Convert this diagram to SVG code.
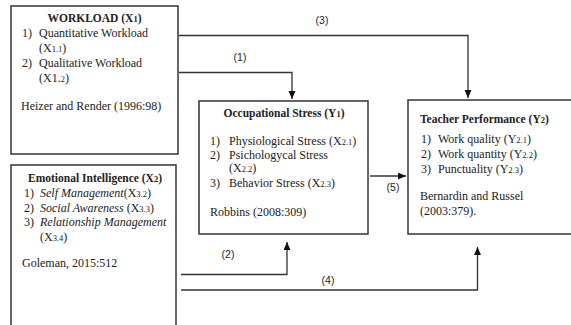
<svg xmlns="http://www.w3.org/2000/svg" width="571" height="325" viewBox="0 0 571 325">
<style>
.box{fill:#fff;stroke:#333;stroke-width:1.5}
.t{font-family:"Liberation Serif",serif;font-size:12px;fill:#222}
.b{font-weight:bold;font-size:11.5px}
.i{font-style:italic}
.s{font-size:8.5px}
.lbl{font-family:"Liberation Sans",sans-serif;font-size:10.5px;fill:#222}
.c{fill:none;stroke:#333;stroke-width:1.3}
</style>
<defs>
<marker id="ah" markerUnits="userSpaceOnUse" markerWidth="8" markerHeight="8" refX="8" refY="3.5" orient="auto">
<path d="M0,0 L8,3.5 L0,7 z" fill="#111"/>
</marker>
</defs>
<rect width="571" height="325" fill="#fff"/>
<g id="connectors">
<polyline class="c" points="179,35.5 468,35.5 468,98" marker-end="url(#ah)"/>
<polyline class="c" points="179,72.5 292,72.5 292,99" marker-end="url(#ah)"/>
<polyline class="c" points="370,176 406,176" marker-end="url(#ah)"/>
<polyline class="c" points="181,274.5 287,274.5 287,242" marker-end="url(#ah)"/>
<polyline class="c" points="181,290 477.5,290 477.5,247" marker-end="url(#ah)"/>
<text class="lbl" x="322" y="24" text-anchor="middle">(3)</text>
<text class="lbl" x="240" y="61" text-anchor="middle">(1)</text>
<text class="lbl" x="393" y="191" text-anchor="middle">(5)</text>
<text class="lbl" x="228" y="258" text-anchor="middle">(2)</text>
<text class="lbl" x="328" y="284" text-anchor="middle">(4)</text>
</g>
<g id="workload">
<rect class="box" x="11" y="6" width="167" height="148"/>
<text class="t b" x="94.5" y="22" text-anchor="middle">WORKLOAD (X<tspan class="s">1</tspan>)</text>
<text class="t" x="22" y="37">1)</text>
<text class="t" x="39" y="37">Quantitative Workload</text>
<text class="t" x="39" y="52">(X<tspan class="s">1.1</tspan>)</text>
<text class="t" x="22" y="67">2)</text>
<text class="t" x="39" y="67">Qualitative Workload</text>
<text class="t" x="39" y="82">(X1.<tspan class="s">2</tspan>)</text>
<text class="t" x="21" y="110">Heizer and Render (1996:98)</text>
</g>
<g id="emotional">
<rect class="box" x="11" y="165" width="165" height="175"/>
<text class="t b" x="95" y="182" text-anchor="middle">Emotional Intelligence (X<tspan class="s">2</tspan>)</text>
<text class="t" x="24" y="197">1)</text>
<text class="t" x="40" y="197"><tspan class="i">Self Management</tspan>(X<tspan class="s">3.2</tspan>)</text>
<text class="t" x="24" y="212">2)</text>
<text class="t" x="40" y="212"><tspan class="i">Social Awareness</tspan> (X<tspan class="s">3.3</tspan>)</text>
<text class="t" x="24" y="226">3)</text>
<text class="t i" x="40" y="226">Relationship Management</text>
<text class="t" x="40" y="241">(X<tspan class="s">3.4</tspan>)</text>
<text class="t" x="22" y="267">Goleman, 2015:512</text>
</g>
<g id="stress">
<rect class="box" x="199" y="101" width="169" height="133"/>
<text class="t b" x="284" y="117" text-anchor="middle">Occupational Stress (Y<tspan class="s">1</tspan>)</text>
<text class="t" x="210" y="145">1)</text>
<text class="t" x="229" y="145">Physiological Stress (X<tspan class="s">2.1</tspan>)</text>
<text class="t" x="210" y="159">2)</text>
<text class="t" x="229" y="159">Psichologycal Stress</text>
<text class="t" x="229" y="172">(X<tspan class="s">2.2</tspan>)</text>
<text class="t" x="210" y="187">3)</text>
<text class="t" x="229" y="187">Behavior Stress (X<tspan class="s">2.3</tspan>)</text>
<text class="t" x="210" y="216">Robbins (2008:309)</text>
</g>
<g id="performance">
<rect class="box" x="408" y="100" width="170" height="134"/>
<text class="t b" x="420" y="123">Teacher Performance (Y<tspan class="s">2</tspan>)</text>
<text class="t" x="421" y="143">1)</text>
<text class="t" x="438" y="143">Work quality (Y<tspan class="s">2.1</tspan>)</text>
<text class="t" x="421" y="158">2)</text>
<text class="t" x="438" y="158">Work quantity (Y<tspan class="s">2.2</tspan>)</text>
<text class="t" x="421" y="173">3)</text>
<text class="t" x="438" y="173">Punctuality (Y<tspan class="s">2.3</tspan>)</text>
<text class="t" x="420" y="200">Bernardin and Russel</text>
<text class="t" x="420" y="215">(2003:379).</text>
</g>
</svg>
